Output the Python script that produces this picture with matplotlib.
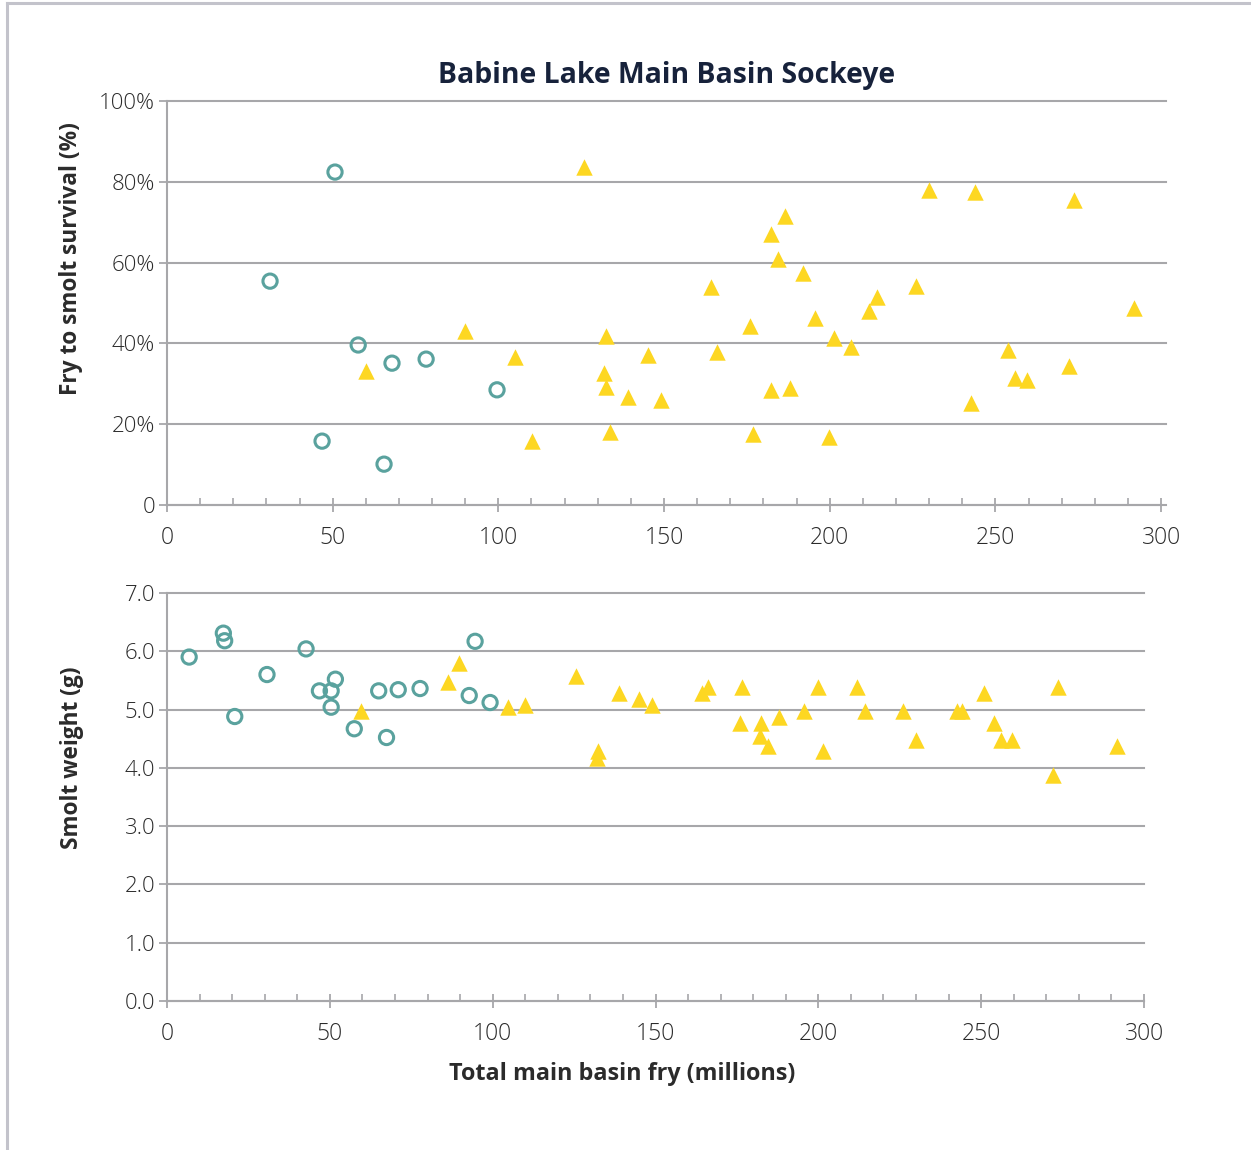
import matplotlib
matplotlib.use("Agg")
import matplotlib.pyplot as plt
from matplotlib.lines import Line2D
from matplotlib.ticker import MultipleLocator

plt.rcParams['font.family'] = ['Open Sans', 'DejaVu Sans']

# --- data ---
# top panel: fry to smolt survival (%)
surv_circ_x = [50.7, 31.1, 57.7, 67.9, 78.2, 99.6, 46.8, 65.5]
surv_circ_y = [82.4, 55.4, 39.6, 35.1, 36.1, 28.5, 15.8, 10.1]

surv_tri_x = [125.9, 90.0, 105.0, 60.1, 110.2, 132.5, 131.9, 132.4, 133.7, 139.1,
              145.2, 149.1, 164.2, 165.9, 176.0, 176.9, 182.3, 186.5, 184.4, 182.4,
              188.1, 192.0, 195.6, 199.8, 201.3, 206.5, 211.9, 214.3, 226.1, 230.0,
              243.9, 242.6, 253.9, 256.0, 259.5, 272.1, 273.6, 291.9]
surv_tri_y = [83.7, 43.1, 36.6, 33.2, 15.8, 41.8, 32.6, 29.3, 18.1, 26.8,
              37.1, 26.0, 54.0, 37.9, 44.3, 17.6, 67.1, 71.5, 60.9, 28.5,
              28.9, 57.4, 46.3, 16.8, 41.3, 39.1, 48.0, 51.5, 54.3, 78.0,
              77.4, 25.2, 38.4, 31.4, 30.9, 34.4, 75.5, 48.8]

# bottom panel: smolt weight (g)
wt_circ_x = [6.8, 17.3, 17.7, 20.8, 30.7, 42.7, 46.8, 50.4, 51.7, 50.4,
             57.5, 65.0, 67.4, 71.0, 77.7, 92.8, 94.6, 99.2]
wt_circ_y = [5.90, 6.31, 6.18, 4.88, 5.60, 6.04, 5.32, 5.32, 5.52, 5.04,
             4.67, 5.32, 4.52, 5.34, 5.36, 5.24, 6.17, 5.12]

wt_tri_x = [59.7, 86.4, 89.6, 104.8, 110.0, 125.6, 132.4, 131.9, 138.9, 145.0,
            149.0, 164.2, 166.0, 176.6, 175.9, 182.3, 182.1, 184.4, 188.0, 195.6,
            199.9, 201.5, 211.8, 214.3, 225.9, 230.0, 242.7, 244.0, 250.9, 254.0,
            256.0, 259.5, 273.5, 272.0, 291.8]
wt_tri_y = [4.98, 5.47, 5.80, 5.05, 5.07, 5.58, 4.28, 4.16, 5.28, 5.18,
            5.08, 5.28, 5.38, 5.38, 4.77, 4.77, 4.55, 4.37, 4.88, 4.98,
            5.38, 4.28, 5.38, 4.98, 4.98, 4.48, 4.98, 4.98, 5.28, 4.77,
            4.48, 4.48, 5.38, 3.88, 4.37]

surv_ticks = [0, 20, 40, 60, 80, 100]
surv_labels = ["0", "20%", "40%", "60%", "80%", "100%"]
wt_ticks = [0, 1, 2, 3, 4, 5, 6, 7]
wt_labels = ["0.0", "1.0", "2.0", "3.0", "4.0", "5.0", "6.0", "7.0"]

teal = "#5aa29e"
yellow = "#fdd722"
grid_gray = "#a7a7aa"
text_col = "#2b2b2b"

fig = plt.figure(figsize=(12.51, 11.5), dpi=100)

# light frame round the figure (top and left edge)
fig.add_artist(Line2D([7 / 1251, 1.0], [1 - 3 / 1150, 1 - 3 / 1150], transform=fig.transFigure,
                      color="#c3c3cb", lw=2.2))
fig.add_artist(Line2D([7 / 1251, 7 / 1251], [0.0, 1 - 3 / 1150], transform=fig.transFigure,
                      color="#c3c3cb", lw=2.2))

ax1 = fig.add_axes([0.1335, 0.5609, 0.7946 * 301.5 / 300, 0.3513])
ax2 = fig.add_axes([0.1335, 0.1296, 0.7810, 0.3548])


def style_axis(ax, xmax, yticks, ylabels, ymax):
    ax.set_xlim(0, xmax)
    ax.set_ylim(0, ymax)
    for s in ["top", "right"]:
        ax.spines[s].set_visible(False)
    for s in ["left", "bottom"]:
        ax.spines[s].set_color(grid_gray)
        ax.spines[s].set_linewidth(1.5)
    ax.spines["bottom"].set_bounds(0, 300)
    ax.xaxis.set_major_locator(MultipleLocator(50))
    ax.xaxis.set_minor_locator(MultipleLocator(10))
    ax.set_yticks(yticks)
    ax.set_yticklabels(ylabels)
    ax.tick_params(axis="x", which="major", direction="inout", length=10, width=1.3,
                   color=grid_gray, labelsize=16.5, labelcolor=text_col, pad=10)
    ax.tick_params(axis="x", which="minor", direction="in", length=5, width=1.2, color=grid_gray)
    ax.tick_params(axis="y", which="major", direction="out", length=5.5, width=1.3,
                   color=grid_gray, labelsize=16, labelcolor=text_col, pad=3)
    for lbl in ax.get_xticklabels() + ax.get_yticklabels():
        lbl.set_fontweight("light")
    ax.grid(axis="y", color=grid_gray, lw=1.5)
    for gl in ax.get_ygridlines():
        gl.set_clip_on(False)
    ax.set_axisbelow(True)


style_axis(ax1, 301.5, surv_ticks, surv_labels, 100)
style_axis(ax2, 300, wt_ticks, wt_labels, 7)

ax1.scatter(surv_circ_x, surv_circ_y, s=105, facecolors="none", edgecolors=teal, linewidths=2.2, zorder=3)
ax1.scatter(surv_tri_x, surv_tri_y, marker="^", s=140, color=yellow, linewidths=0, zorder=3)

ax2.scatter(wt_circ_x, wt_circ_y, s=105, facecolors="none", edgecolors=teal, linewidths=2.2, zorder=3)
ax2.scatter(wt_tri_x, wt_tri_y, marker="^", s=140, color=yellow, linewidths=0, zorder=3)

ax1.set_title("Babine Lake Main Basin Sockeye", fontsize=20.4, fontweight="bold",
              color="#17223b", pad=13)

ax1.set_ylabel("Fry to smolt survival (%)", fontsize=16.3, fontweight="bold", color=text_col)
ax1.yaxis.set_label_coords(-0.084, 0.611)
ax2.set_ylabel("Smolt weight (g)", fontsize=16.3, fontweight="bold", color=text_col)
ax2.yaxis.set_label_coords(-0.085, 0.596)
ax2.set_xlabel("Total main basin fry (millions)", fontsize=16.8, fontweight="bold", color=text_col)
ax2.xaxis.set_label_coords(0.466, -0.15)

fig.savefig("out.png", dpi=100, facecolor="white")
